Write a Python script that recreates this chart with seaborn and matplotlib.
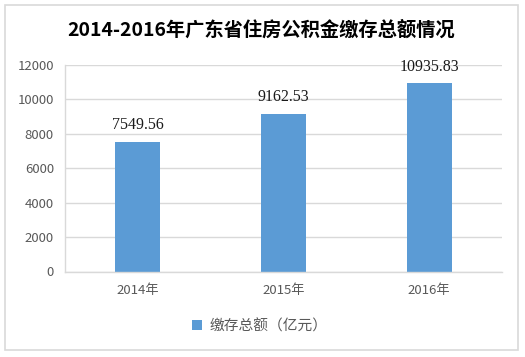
import matplotlib
matplotlib.use("Agg")
import matplotlib.pyplot as plt
import seaborn as sns
import pandas as pd
from matplotlib.patches import Rectangle

years = ["2014年", "2015年", "2016年"]
values = [7549.56, 9162.53, 10935.83]
value_labels = ["7549.56", "9162.53", "10935.83"]
yticks = [0, 2000, 4000, 6000, 8000, 10000, 12000]
title = "2014-2016年广东省住房公积金缴存总额情况"
legend_label = "缴存总额（亿元）"

sns.set_theme(style="white")
plt.rcParams['font.family'] = ['Noto Sans CJK SC', 'DejaVu Sans']

df = pd.DataFrame({"year": years, "value": values})

fig = plt.figure(figsize=(5.25, 3.57), dpi=100)
fig.patch.set_facecolor("white")
fig.patches.append(Rectangle((5/525, 1-350/357), 513/525, 345/357, transform=fig.transFigure,
                             fill=False, edgecolor="#D9D9D9", linewidth=1.2))
ax = fig.add_axes([65/525, 1-271.5/357, 437/525, 206.5/357])

bar_color = "#5B9BD5"
sns.barplot(data=df, x="year", y="value", color=bar_color, width=0.31, ax=ax,
            saturation=1, label=legend_label, linewidth=0, edgecolor="none")

ax.set_ylim(0, 12000)
ax.set_yticks(yticks)
ax.set_yticklabels([str(t) for t in yticks])
ax.yaxis.grid(True, color="#D9D9D9", linewidth=1)
ax.set_axisbelow(True)
ax.set_xlabel("")
ax.set_ylabel("")
for s in ["top", "right"]:
    ax.spines[s].set_visible(False)
for s in ["left", "bottom"]:
    ax.spines[s].set_color("#D9D9D9")
    ax.spines[s].set_linewidth(1)
ax.tick_params(axis="both", length=0, labelsize=9.5, labelcolor="#595959", pad=8)
ax.tick_params(axis="x", pad=9)

for i, (v, lab) in enumerate(zip(values, value_labels)):
    ax.text(i, v + 500, lab, ha="center", va="bottom", fontsize=11.5,
            family=["Liberation Serif", "DejaVu Serif"], color="#1a1a1a")

fig.text(261/525, 1-30/357, title, ha="center", va="center", fontsize=13.9,
         fontweight="bold", color="#000000")

leg = ax.legend(loc="center", bbox_to_anchor=(0.446, -0.265), frameon=False,
                fontsize=10.6, handlelength=0.7, handleheight=0.7, handletextpad=0.5,
                labelcolor="#595959")

fig.savefig("out.png", dpi=100)
